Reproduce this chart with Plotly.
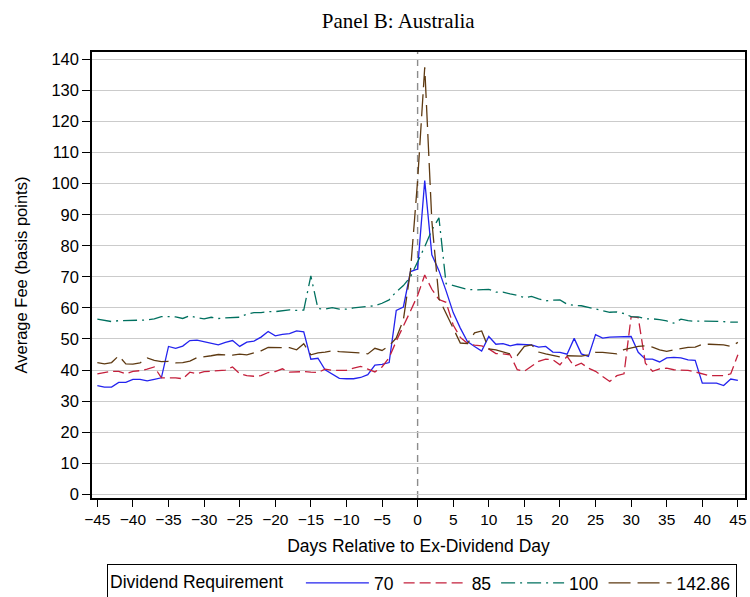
import plotly.graph_objects as go

days = list(range(-45, 46))

fee_70 = [35.0, 34.5, 34.5, 36.0, 36.0, 37.0, 37.0, 36.5, 37.0, 37.5,
          47.6, 47.0, 47.7, 49.5, 49.6, 49.1, 48.7, 48.1, 48.9, 49.5,
          47.6, 49.0, 49.3, 50.6, 52.4, 51.0, 51.5, 51.7, 52.6, 52.3,
          43.5, 43.8, 40.1, 38.8, 37.3, 37.2, 37.2, 37.6, 38.5, 41.6,
          41.8, 42.4, 59.2, 60.3, 71.7, 72.5, 101.0, 77.1, 72.0, 65.5,
          58.5, 53.5, 49.2, 47.6, 46.1, 50.8, 48.3, 48.5, 47.8, 48.3,
          48.1, 48.1, 47.4, 47.6, 45.8, 45.7, 45.1, 50.2, 45.2, 44.4,
          51.4, 50.3, 50.6, 50.6, 50.6, 50.8, 45.7, 43.5, 43.5, 42.6,
          43.9, 44.1, 43.9, 43.3, 43.1, 35.8, 35.8, 35.8, 35.0, 37.1,
          36.7]

fee_85 = [38.8, 39.2, 39.6, 39.6, 38.8, 39.6, 39.8, 40.3, 41.0, 37.5,
          37.5, 37.5, 37.2, 39.3, 38.8, 39.5, 39.6, 39.7, 40.0, 41.0,
          38.8, 38.2, 38.0, 38.2, 39.2, 39.5, 40.4, 39.3, 39.5, 39.5,
          39.3, 39.2, 40.3, 39.9, 39.9, 39.9, 40.6, 41.2, 40.3, 39.4,
          41.0, 44.0, 49.3, 54.0, 59.0, 64.0, 70.6, 66.0, 62.7, 61.8,
          54.5, 50.5, 48.6, 48.0, 47.8, 46.8, 45.3, 45.2, 44.9, 40.1,
          39.6, 41.2, 42.8, 43.5, 43.3, 41.7, 44.4, 41.2, 42.2, 40.6,
          39.6, 37.9, 36.3, 38.2, 38.8, 57.2, 56.9, 42.2, 39.6, 40.4,
          40.6, 40.1, 39.9, 39.9, 39.4, 38.8, 38.2, 38.2, 38.2, 38.8,
          44.9]

fee_100 = [56.4, 55.9, 55.6, 55.9, 55.9, 56.0, 56.0, 56.1, 56.5, 57.2,
           57.2, 57.1, 56.6, 57.5, 56.8, 56.5, 57.0, 56.6, 56.8, 56.9,
           57.0, 58.0, 58.5, 58.5, 58.8, 58.8, 59.2, 59.4, 59.2, 59.3,
           70.3, 59.8, 59.6, 60.1, 59.6, 59.6, 60.0, 60.2, 60.3, 60.7,
           61.5, 62.6, 65.2, 67.2, 70.0, 74.7, 79.7, 85.1, 89.0, 67.8,
           67.2, 66.4, 66.0, 65.8, 66.0, 66.0, 65.1, 65.1, 64.5, 64.1,
           63.3, 63.7, 62.9, 62.3, 62.5, 62.6, 61.2, 60.8, 60.7, 60.2,
           59.6, 59.1, 58.6, 58.7, 58.2, 57.2, 57.1, 56.5, 56.5, 56.2,
           55.8, 55.1, 56.4, 55.9, 55.7, 55.8, 55.8, 55.8, 55.6, 55.4,
           55.4]

fee_14286 = [42.4, 42.0, 42.4, 44.6, 42.0, 41.9, 42.3, 43.9, 43.1, 42.7,
             42.8, 42.3, 42.4, 42.9, 44.0, 44.2, 44.6, 45.0, 45.0, 44.8,
             45.1, 44.9, 45.5, 46.2, 47.3, 47.3, 47.2, 47.2, 46.5, 48.5,
             44.9, 45.5, 45.8, 46.2, 45.9, 45.8, 45.6, 45.5, 45.2, 47.0,
             46.3, 47.8, 50.3, 56.2, 72.0, 101.0, 137.5, 88.0, 63.0, 58.3,
             53.2, 48.7, 48.5, 52.0, 52.6, 46.8, 46.5, 45.8, 45.2, 44.7,
             47.6, 48.1, 45.8, 45.2, 44.6, 44.2, 44.6, 44.6, 44.5, 44.9,
             45.7, 45.7, 45.5, 45.2, 46.6, 47.1, 47.6, 47.8, 47.4, 46.5,
             46.0, 46.5, 46.9, 47.3, 47.4, 48.3, 48.3, 48.3, 48.1, 47.6,
             48.9]

series_names = ["70", "85", "100", "142.86"]
series_values = [fee_70, fee_85, fee_100, fee_14286]
colors = ["#2323ee", "#c4203c", "#00705f", "#5e3a12"]
dashes = ["solid", "11px,5px", "14px,5px,2px,5px", "22px,7px"]

x_ticks = list(range(-45, 50, 5))
y_ticks = list(range(0, 150, 10))

FONT = "Liberation Sans, Arial, sans-serif"

fig = go.Figure()
for name, vals, col, dash in zip(series_names, series_values, colors, dashes):
    fig.add_trace(go.Scatter(
        x=days, y=vals, mode="lines", name=name,
        line=dict(color=col, width=1.3, dash=dash),
    ))

fig.add_shape(type="line", xref="x", yref="paper", x0=0, x1=0, y0=0, y1=1,
              line=dict(color="#8c8c8c", width=1.4, dash="7px,5px"), layer="below")

fig.update_layout(
    width=750, height=597,
    paper_bgcolor="white", plot_bgcolor="white",
    margin=dict(l=92, r=5, t=52, b=99, autoexpand=False),
    font=dict(family=FONT, size=16, color="black"),
    title=dict(text="Panel B: Australia", x=0.531, xref="container", xanchor="center",
               y=0.966, yref="container", yanchor="middle",
               font=dict(family="Liberation Serif, Times New Roman, serif", size=21, color="black")),
    showlegend=True,
    legend=dict(
        orientation="h", x=0.023, xanchor="left", y=-0.148, yanchor="top",
        bordercolor="black", borderwidth=1, bgcolor="white",
        title=dict(text="Dividend Requirement\u00a0\u00a0", side="left", font=dict(size=17.5)),
        font=dict(size=17.5),
        itemwidth=63,
        tracegroupgap=0,
    ),
)

fig.update_xaxes(
    range=[-45.75, 46], tickmode="array", tickvals=x_ticks,
    ticks="outside", ticklen=7, tickwidth=1.3, tickcolor="black",
    showline=True, linecolor="black", linewidth=1.5, mirror=True,
    showgrid=False, zeroline=False,
    tickfont=dict(size=15.5),
    title=dict(text="Days Relative to Ex-Dividend Day", font=dict(size=17.5), standoff=12),
)
fig.update_yaxes(
    range=[-1.2, 142.4], tickmode="array", tickvals=y_ticks,
    ticks="outside", ticklen=8, tickwidth=1.3, tickcolor="black",
    showline=True, linecolor="black", linewidth=1.5, mirror=True,
    showgrid=True, gridcolor="#cbcbcb", gridwidth=1.3, zeroline=False,
    tickfont=dict(size=16.5),
    title=dict(text="Average Fee (basis points)", font=dict(size=16.5), standoff=20),
)

fig.write_html(
    "out.html",
    config={"displayModeBar": False},
    post_script="document.body.style.margin='0';document.body.style.overflow='hidden';",
)
